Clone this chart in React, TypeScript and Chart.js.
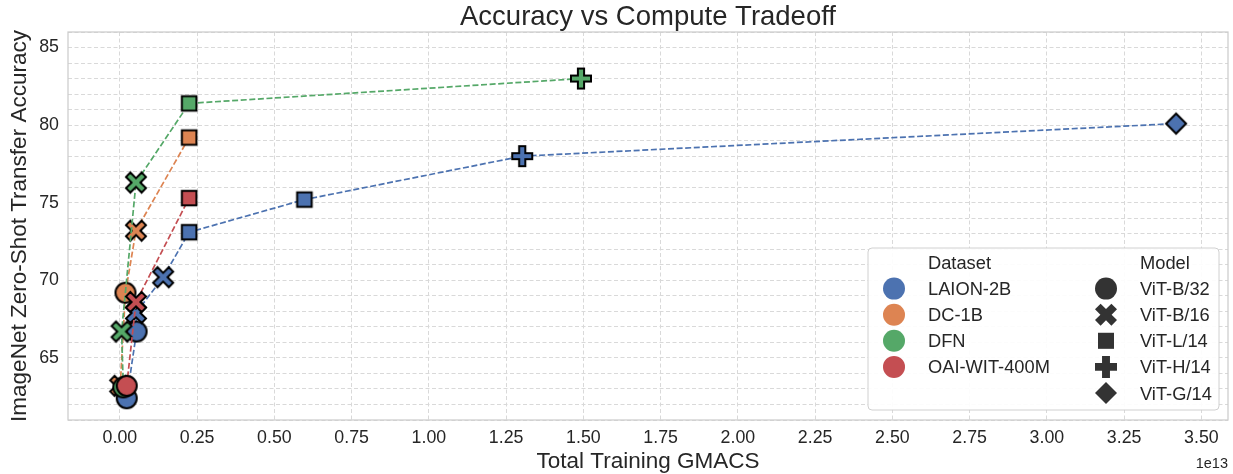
import React, { useEffect, useRef } from "react";
import { Chart, registerables } from "chart.js";

Chart.register(...registerables);

// ---------- data ----------
const DATASET_NAMES = ["LAION-2B", "DC-1B", "DFN", "OAI-WIT-400M"];
const DATASET_COLORS = ["#4C72B0", "#DD8452", "#55A868", "#C44E52"];
const MODEL_NAMES = ["ViT-B/32", "ViT-B/16", "ViT-L/14", "ViT-H/14", "ViT-G/14"];
const MODEL_SHAPES = ["circle", "x", "square", "plus", "diamond"];

// Total training GMACS (absolute values, axis shows them in units of 1e13)
const laionGmacs = [0.022e13, 0.054e13, 0.052e13, 0.14e13, 0.224e13, 0.597e13, 1.302e13, 3.418e13];
const laionAccuracy = [62.4, 66.7, 67.9, 70.2, 73.1, 75.2, 78.0, 80.1];
const laionModels = ["ViT-B/32", "ViT-B/32", "ViT-B/16", "ViT-B/16", "ViT-L/14", "ViT-L/14", "ViT-H/14", "ViT-G/14"];

const dcGmacs = [0.001e13, 0.018e13, 0.052e13, 0.224e13];
const dcAccuracy = [63.2, 69.2, 73.2, 79.2];
const dcModels = ["ViT-B/16", "ViT-B/32", "ViT-B/16", "ViT-L/14"];

const dfnGmacs = [0.011e13, 0.0055e13, 0.052e13, 0.224e13, 1.492e13];
const dfnAccuracy = [63.1, 66.7, 76.3, 81.4, 83.0];
const dfnModels = ["ViT-B/32", "ViT-B/16", "ViT-B/16", "ViT-L/14", "ViT-H/14"];

const oaiGmacs = [0.022e13, 0.052e13, 0.224e13];
const oaiAccuracy = [63.2, 68.6, 75.3];
const oaiModels = ["ViT-B/32", "ViT-B/16", "ViT-L/14"];

const SERIES_GMACS = [laionGmacs, dcGmacs, dfnGmacs, oaiGmacs];
const SERIES_ACCURACY = [laionAccuracy, dcAccuracy, dfnAccuracy, oaiAccuracy];
const SERIES_MODELS = [laionModels, dcModels, dfnModels, oaiModels];

const X_MIN = -0.168e13;
const X_MAX = 3.586e13;
const X_TICKS = [0, 0.25e13, 0.5e13, 0.75e13, 1.0e13, 1.25e13, 1.5e13, 1.75e13, 2.0e13, 2.25e13, 2.5e13, 2.75e13, 3.0e13, 3.25e13, 3.5e13];
const Y_MIN = 61;
const Y_MAX = 86;
const Y_STEP = 1;
const Y_LABEL_EVERY = 5;

const TITLE = "Accuracy vs Compute Tradeoff";
const X_TITLE = "Total Training GMACS";
const Y_TITLE = "ImageNet Zero-Shot Transfer Accuracy";
const X_OFFSET_TEXT = "1e13";

// ---------- styling ----------
const FONT = "'Liberation Sans', Arial, Helvetica, sans-serif";
const TEXT_COLOR = "#262626";
const GRID_COLOR = "#d9d9d9";
const FRAME_COLOR = "#cccccc";

function shapePath(ctx: CanvasRenderingContext2D, shape: string, cx: number, cy: number, s: number, tRatio: number) {
  ctx.beginPath();
  if (shape === "circle") {
    ctx.arc(cx, cy, s, 0, Math.PI * 2);
  } else if (shape === "square") {
    const h = 0.73 * s;
    ctx.rect(cx - h, cy - h, 2 * h, 2 * h);
  } else if (shape === "diamond") {
    ctx.moveTo(cx, cy - s);
    ctx.lineTo(cx + s, cy);
    ctx.lineTo(cx, cy + s);
    ctx.lineTo(cx - s, cy);
    ctx.closePath();
  } else {
    const t = tRatio * s;
    const L = shape === "plus" ? s : Math.SQRT2 * s - t;
    const pts: [number, number][] = [
      [-t, -L], [t, -L], [t, -t], [L, -t], [L, t], [t, t],
      [t, L], [-t, L], [-t, t], [-L, t], [-L, -t], [-t, -t],
    ];
    const a = shape === "x" ? Math.PI / 4 : 0;
    const ca = Math.cos(a), sa = Math.sin(a);
    pts.forEach(([px, py], i) => {
      const rx = px * ca - py * sa;
      const ry = px * sa + py * ca;
      if (i === 0) ctx.moveTo(cx + rx, cy + ry);
      else ctx.lineTo(cx + rx, cy + ry);
    });
    ctx.closePath();
  }
}

function drawShape(ctx: CanvasRenderingContext2D, shape: string, cx: number, cy: number, s: number, fill: string, stroke: string | null, lw: number, tRatio: number) {
  ctx.save();
  shapePath(ctx, shape, cx, cy, s, tRatio);
  ctx.fillStyle = fill;
  ctx.fill();
  if (stroke) {
    ctx.lineWidth = lw;
    ctx.strokeStyle = stroke;
    ctx.lineJoin = "miter";
    ctx.stroke();
  }
  ctx.restore();
}

function makeMarker(shape: string, fill: string): HTMLCanvasElement {
  const s = 10;
  const lw = 2;
  const size = 30;
  const c = document.createElement("canvas");
  c.width = size;
  c.height = size;
  const ctx = c.getContext("2d")!;
  drawShape(ctx, shape, size / 2, size / 2, s, fill, "#000000", lw, 0.31);
  return c;
}

const decorPlugin = {
  id: "decor",
  beforeDatasetsDraw(chart: any) {
    const { ctx, chartArea } = chart;
    ctx.save();
    ctx.strokeStyle = FRAME_COLOR;
    ctx.lineWidth = 1.25;
    ctx.strokeRect(chartArea.left, chartArea.top, chartArea.right - chartArea.left, chartArea.bottom - chartArea.top);
    ctx.restore();
  },
  afterDatasetsDraw(chart: any) {
    const { ctx, chartArea } = chart;
    const x0 = chartArea.right - 360;
    const x1 = chartArea.right - 9;
    const y0 = chartArea.bottom - 172;
    const y1 = chartArea.bottom - 10;
    ctx.save();
    const r = 4;
    ctx.beginPath();
    ctx.moveTo(x0 + r, y0);
    ctx.lineTo(x1 - r, y0);
    ctx.quadraticCurveTo(x1, y0, x1, y0 + r);
    ctx.lineTo(x1, y1 - r);
    ctx.quadraticCurveTo(x1, y1, x1 - r, y1);
    ctx.lineTo(x0 + r, y1);
    ctx.quadraticCurveTo(x0, y1, x0, y1 - r);
    ctx.lineTo(x0, y0 + r);
    ctx.quadraticCurveTo(x0, y0, x0 + r, y0);
    ctx.closePath();
    ctx.fillStyle = "rgba(255,255,255,0.9)";
    ctx.fill();
    ctx.strokeStyle = "#d0d0d0";
    ctx.lineWidth = 1;
    ctx.stroke();

    const fs = 18.3;
    ctx.font = `${fs}px ${FONT}`;
    ctx.fillStyle = TEXT_COLOR;
    ctx.textAlign = "left";
    ctx.textBaseline = "alphabetic";
    const capOff = 0.358 * fs;
    const rowY = (i: number) => y0 + 14.5 + i * 26.1;
    const c1m = x0 + 26, c1t = x0 + 60, c2m = x0 + 238, c2t = x0 + 272;
    ctx.fillText("Dataset", c1t, rowY(0) + capOff);
    ctx.fillText("Model", c2t, rowY(0) + capOff);
    DATASET_NAMES.forEach((name, i) => {
      drawShape(ctx, "circle", c1m, rowY(i + 1), 11, DATASET_COLORS[i], null, 0, 0.36);
      ctx.fillStyle = TEXT_COLOR;
      ctx.fillText(name, c1t, rowY(i + 1) + capOff);
    });
    MODEL_NAMES.forEach((name, i) => {
      drawShape(ctx, MODEL_SHAPES[i], c2m, rowY(i + 1), 11, "#333333", null, 0, 0.36);
      ctx.fillStyle = TEXT_COLOR;
      ctx.fillText(name, c2t, rowY(i + 1) + capOff);
    });
    ctx.restore();
  },
  afterDraw(chart: any) {
    const { ctx, chartArea } = chart;
    ctx.save();
    ctx.fillStyle = TEXT_COLOR;
    ctx.textBaseline = "alphabetic";
    ctx.font = `27.5px ${FONT}`;
    ctx.textAlign = "center";
    ctx.fillText(TITLE, (chartArea.left + chartArea.right) / 2, 25);
    ctx.font = `14.5px ${FONT}`;
    ctx.textAlign = "right";
    ctx.fillText(X_OFFSET_TEXT, chartArea.right, 468);
    ctx.restore();
  },
};

export default function App() {
  const ref = useRef<HTMLCanvasElement | null>(null);

  useEffect(() => {
    const canvas = ref.current;
    if (!canvas) return;
    const datasets = DATASET_NAMES.map((name, i) => {
      const markers: Record<string, HTMLCanvasElement> = {};
      MODEL_NAMES.forEach((m, k) => {
        markers[m] = makeMarker(MODEL_SHAPES[k], DATASET_COLORS[i]);
      });
      return {
        label: name,
        data: SERIES_GMACS[i].map((x, j) => ({ x, y: SERIES_ACCURACY[i][j] })),
        showLine: true,
        borderColor: DATASET_COLORS[i],
        backgroundColor: DATASET_COLORS[i],
        borderWidth: 1.7,
        borderDash: [6, 2.6],
        fill: false,
        tension: 0,
        pointRadius: 8,
        pointStyle: SERIES_MODELS[i].map((m) => markers[m]),
        order: DATASET_NAMES.length - 1 - i,
      };
    });

    const chart = new Chart(canvas, {
      type: "scatter",
      data: { datasets } as any,
      options: {
        animation: false,
        responsive: false,
        events: [],
        layout: { autoPadding: false, padding: { top: 32, right: 5, bottom: 0, left: 0 } },
        font: { family: FONT },
        plugins: {
          legend: { display: false },
          title: { display: false },
          tooltip: { enabled: false },
        },
        scales: {
          x: {
            type: "linear",
            min: X_MIN,
            max: X_MAX,
            afterBuildTicks: (scale: any) => {
              scale.ticks = X_TICKS.map((v) => ({ value: v }));
            },
            ticks: {
              autoSkip: false,
              maxRotation: 0,
              padding: 7.3,
              color: TEXT_COLOR,
              font: { family: FONT, size: 17.8 },
              callback: (v: any) => (Number(v) / 1e13).toFixed(2),
            },
            grid: { color: GRID_COLOR, lineWidth: 1, drawTicks: false },
            border: { display: false, dash: [4, 2.5] },
            title: {
              display: true,
              text: X_TITLE,
              color: TEXT_COLOR,
              font: { family: FONT, size: 22.5 },
              padding: { top: 0, bottom: -1.5 },
            },
            afterFit: (s: any) => {
              s.height = 54;
            },
          },
          y: {
            type: "linear",
            min: Y_MIN,
            max: Y_MAX,
            ticks: {
              stepSize: Y_STEP,
              autoSkip: false,
              padding: 9,
              color: TEXT_COLOR,
              font: { family: FONT, size: 17.8 },
              callback: (v: any) => (Number(v) % Y_LABEL_EVERY === 0 ? String(v) : ""),
            },
            grid: { color: GRID_COLOR, lineWidth: 1, drawTicks: false },
            border: { display: false, dash: [4, 2.5] },
            title: {
              display: true,
              text: Y_TITLE,
              color: TEXT_COLOR,
              font: { family: FONT, size: 22.5 },
              padding: { top: 6.5, bottom: 0 },
            },
            afterFit: (s: any) => {
              s.width = 68;
            },
          },
        },
      } as any,
      plugins: [decorPlugin],
    });
    return () => chart.destroy();
  }, []);

  return (
    <div style={{ position: "fixed", left: 0, top: 0, width: 1233, height: 474, background: "#ffffff" }}>
      <canvas ref={ref} width={1233} height={474} style={{ display: "block", width: 1233, height: 474 }} />
    </div>
  );
}
